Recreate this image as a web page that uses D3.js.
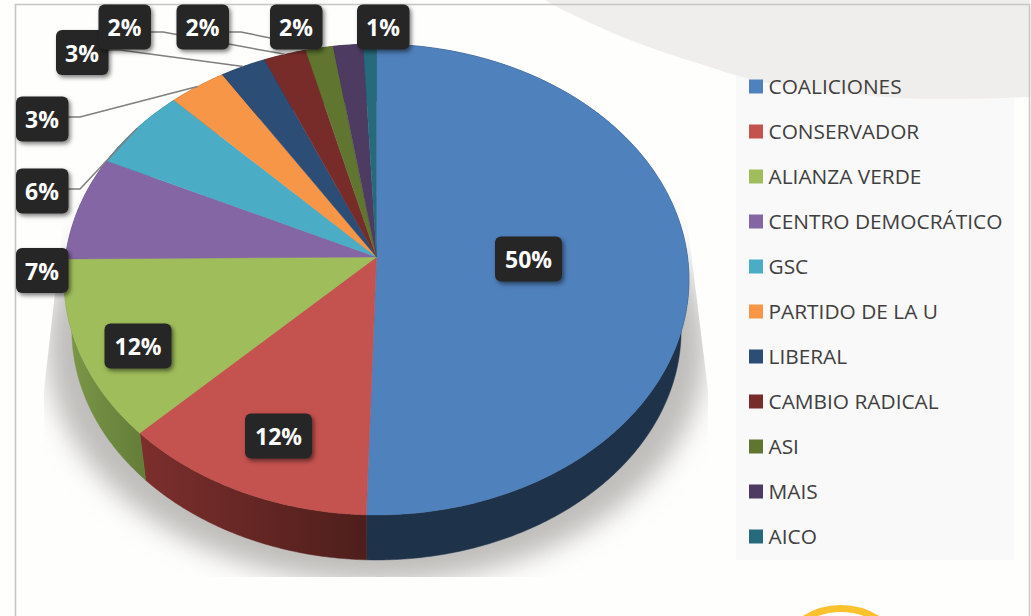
<!DOCTYPE html>
<html><head><meta charset="utf-8">
<script src="https://cdn.jsdelivr.net/npm/d3@7"></script>
<style>html,body{margin:0;padding:0;background:#fff}svg{display:block}</style>
</head><body><svg id="c" width="1031" height="616"></svg>
<script>
// ---- data
const categories = ["COALICIONES","CONSERVADOR","ALIANZA VERDE","CENTRO DEMOCRÁTICO","GSC","PARTIDO DE LA U","LIBERAL","CAMBIO RADICAL","ASI","MAIS","AICO"];
const shares = [50.5,12.1,12.3,7.2,5.7,3.25,2.6,2.4,1.56,1.7,0.74];
const labels = ["50%","12%","12%","7%","6%","3%","3%","2%","2%","2%","1%"];
const faceColors = ["#4f81bd","#c4524f","#9fbd5a","#8466a5","#4bacc6","#f79646","#2c4d75","#772c2a","#5f7530","#4d3b62","#276a7c"];
const wallLight = ["#1e3249","#7c2f2d","#7c9848","#4d3d63","#2d6776","#94592a","#1a2e46","#471a19","#39461d","#2e233b","#173f4a"];
const wallDark  = ["#1e3249","#4e1e1b","#657f3a","#4d3d63","#2d6776","#94592a","#1a2e46","#471a19","#39461d","#2e233b","#173f4a"];
// ---- hand-placed label boxes (layout, as in the original chart)
const labelCenters = [[528.5,259],[278.5,436],[138,346],[42,270.5],[42,191],[42,119],[82,52.5],[124.5,27],[202.5,27],[296,27],[383,27]];
const labelElbows = [null,null,null,null,[80,189],[80,117],[120,50],[163,32],[241,32],null,null];

const svg = d3.select("#c");
const defs = svg.append("defs");
const W = 1031, H = 616;

// page
svg.append("rect").attr("width",W).attr("height",H).attr("fill","#fefefd");

// legend panel + corner blob
svg.append("rect").attr("x",736).attr("y",65).attr("width",278).attr("height",495).attr("fill","#f9f9f9");
const blobEdge = [[545,0],[563,10],[630,40],[697,63],[763,82],[863,95],[930,99],[1030,97]];
const blobPath = d3.line().curve(d3.curveCatmullRom)(blobEdge) + "L1030,0Z";
svg.append("path").attr("d",blobPath).attr("fill","#efedeb").attr("opacity",0.94);

// frame
svg.append("path").attr("d","M15.5,616V4.5H1029.5V616").attr("fill","none").attr("stroke","#c6c6c6").attr("stroke-width",1.6);

// logo ring fragment
svg.append("circle").attr("cx",841).attr("cy",676).attr("r",67.5).attr("fill","none").attr("stroke","#fcc22d").attr("stroke-width",7);

// ---- projection of the tilted disc
const cx = 376.5, cy = 257, Rx = 311, Ry = 233.3, k = 0.0955, sc = 0.975, vy = 2316;
function topPt(theta){ const u=Math.sin(theta), v=Math.cos(theta), w=1+k*v; return [cx+Rx*u/w, cy-Ry*v/w]; }
function bottomPt(p){ return [cx+sc*(p[0]-cx), vy+sc*(p[1]-vy)]; }

const pie = d3.pie().sort(null).value(d=>d);
const arcs = pie(shares);
const color = d3.scaleOrdinal().domain(categories).range(faceColors);
const line = d3.line();
function samples(a0,a1){ const n=Math.max(2,Math.ceil((a1-a0)/0.01)); return d3.range(n+1).map(i=>topPt(a0+(a1-a0)*i/n)); }

// shadow
defs.append("filter").attr("id","blur").attr("x","-20%").attr("y","-20%").attr("width","140%").attr("height","140%")
  .append("feGaussianBlur").attr("stdDeviation",13);
defs.append("clipPath").attr("id","shClip").append("path").attr("d","M66,195 L44,390 L44,577 L708,577 L708,390 L684,195Z");
const outline = samples(0,2*Math.PI).map(p=>[cx+1.055*(p[0]-cx),p[1]+68]);
svg.append("g").attr("clip-path","url(#shClip)")
  .append("path").attr("d",line(outline)+"Z").attr("fill","#bfbebb").attr("filter","url(#blur)");

// walls
arcs.forEach((d,i)=>{
  const t = samples(d.startAngle,d.endAngle), b = t.map(bottomPt);
  const xs = t.map(p=>p[0]);
  const g = defs.append("linearGradient").attr("id","w"+i).attr("gradientUnits","userSpaceOnUse")
    .attr("x1",d3.min(xs)).attr("x2",d3.max(xs)).attr("y1",0).attr("y2",0);
  g.append("stop").attr("offset",0).attr("stop-color",wallLight[i]);
  g.append("stop").attr("offset",1).attr("stop-color",wallDark[i]);
  svg.append("path").attr("d",line(t.concat(b.reverse()))+"Z").attr("fill","url(#w"+i+")")
    .attr("stroke","url(#w"+i+")").attr("stroke-width",0.5);
});

// faces
svg.append("g").selectAll("path").data(arcs).join("path")
  .attr("d",d=>line([[cx,cy]].concat(samples(d.startAngle,d.endAngle)))+"Z")
  .attr("fill",(d,i)=>color(categories[i]))
  .attr("stroke",(d,i)=>color(categories[i])).attr("stroke-width",0.4);

// leaders
const leaders = svg.append("g").attr("fill","none").attr("stroke","#7f7f7f").attr("stroke-width",1.5);
arcs.forEach((d,i)=>{
  if(!labelElbows[i]) return;
  const c = labelCenters[i], e = labelElbows[i], mid=(d.startAngle+d.endAngle)/2;
  leaders.append("path").attr("d",line([[c[0],e[1]],e,topPt(mid)]));
});

// label boxes
const ds = defs.append("filter").attr("id","ds").attr("x","-30%").attr("y","-30%").attr("width","170%").attr("height","170%");
ds.append("feDropShadow").attr("dx",2).attr("dy",2.5).attr("stdDeviation",2.2).attr("flood-color","#000").attr("flood-opacity",0.5);
const lab = svg.append("g").selectAll("g").data(labels).join("g")
  .attr("transform",(d,i)=>`translate(${labelCenters[i]})`);
lab.append("rect").attr("x",(d,i)=>i<3?-33.5:-26).attr("y",-22.5).attr("width",(d,i)=>i<3?67:52.5).attr("height",45).attr("rx",6)
  .attr("fill","#262626").attr("filter","url(#ds)");
lab.append("text").text(d=>d).attr("text-anchor","middle").attr("y",9)
  .attr("font-family","'Open Sans'").attr("font-weight",700).attr("font-size",23).attr("fill","#fff");

// legend
const ly = d3.scalePoint().domain(categories).range([86.5,536.5]);
const leg = svg.append("g").selectAll("g").data(categories).join("g").attr("transform",d=>`translate(749,${ly(d)})`);
leg.append("rect").attr("y",-7).attr("width",14).attr("height",14).attr("fill",d=>color(d));
leg.append("text").text(d=>d).attr("x",19.5).attr("y",7.3).attr("font-family","'Open Sans'").attr("font-size",20.85).attr("fill","#404040");
</script></body></html>
